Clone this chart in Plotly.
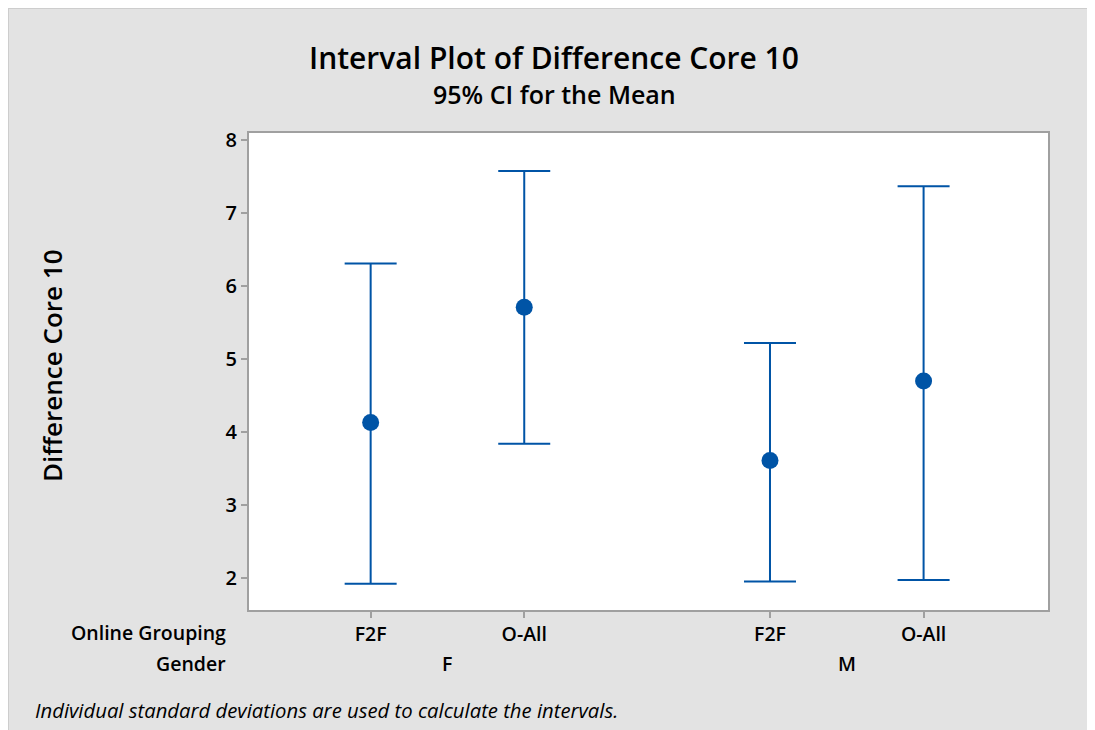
import plotly.graph_objects as go

# ---- data ----
genders = ["F", "M"]
groupings = ["F2F", "O-All"]
means = [4.13, 5.71, 3.61, 4.70]
lower = [1.92, 3.84, 1.95, 1.97]
upper = [6.31, 7.58, 5.22, 7.37]
y_ticks = [2, 3, 4, 5, 6, 7, 8]

BLUE = "#0054A6"
FONT = "Open Sans"
SEMI = 600

# layout positions for the nested categories
GAP = 2.6
xs = []
labels = []
for gi, g in enumerate(genders):
    for si, s in enumerate(groupings):
        xs.append(gi * GAP + si + 1)
        labels.append(s)

err_plus = [u - m for u, m in zip(upper, means)]
err_minus = [m - l for m, l in zip(means, lower)]

fig = go.Figure()
fig.add_trace(go.Scatter(
    x=xs, y=means, mode="markers",
    marker=dict(size=17, color=BLUE),
    error_y=dict(type="data", symmetric=False, array=err_plus, arrayminus=err_minus,
                 color=BLUE, thickness=2, width=26),
    showlegend=False, hoverinfo="y",
))

OFF = 8  # page offset of the figure
W, H = 1095, 730
L = 249 - OFF
T = 133 - OFF
R = W - (1048 - OFF)
B = H - (610 - OFF)
pw = W - L - R
ph = H - T - B

def px_x(p):
    return (p - OFF - L) / pw

def px_y(p):
    return (H - B - (p - OFF)) / ph

shapes = [dict(type="rect", xref="paper", yref="paper",
               x0=-L / pw, x1=(W - L) / pw, y0=-B / ph, y1=(H - B) / ph,
               fillcolor="rgba(0,0,0,0)", line=dict(color="#CDCDCD", width=2), layer="below")]

annotations = [
    dict(text="Online Grouping", xref="paper", yref="paper", x=px_x(228), y=px_y(632),
         xanchor="right", yanchor="middle", showarrow=False,
         font=dict(size=19.5, color="#000", family=FONT, weight=SEMI)),
    dict(text="Gender", xref="paper", yref="paper", x=px_x(228), y=px_y(663),
         xanchor="right", yanchor="middle", showarrow=False,
         font=dict(size=19.5, color="#000", family=FONT, weight=SEMI)),
    dict(text="Individual standard deviations are used to calculate the intervals.",
         xref="paper", yref="paper", x=px_x(33), y=px_y(710),
         xanchor="left", yanchor="middle", showarrow=False,
         font=dict(size=20.3, color="#000", family=FONT, style="italic")),
    dict(text="Interval Plot of Difference Core 10", xref="paper", yref="paper",
         x=px_x(554), y=px_y(57), xanchor="center", yanchor="middle", showarrow=False,
         font=dict(size=30, color="#000", family=FONT, weight=SEMI)),
    dict(text="95% CI for the Mean", xref="paper", yref="paper",
         x=px_x(554), y=px_y(94), xanchor="center", yanchor="middle", showarrow=False,
         font=dict(size=25, color="#000", family=FONT, weight=SEMI)),
    dict(text="Difference Core 10", xref="paper", yref="paper",
         x=px_x(52), y=px_y(366), xanchor="center", yanchor="middle", showarrow=False,
         textangle=-90, font=dict(size=26, color="#000", family=FONT, weight=SEMI)),
]
for gi, g in enumerate(genders):
    gx = [xs[i] for i in range(len(xs)) if i // len(groupings) == gi]
    annotations.append(dict(text=g, xref="x", yref="paper", x=sum(gx) / len(gx),
                            y=px_y(663), xanchor="center", yanchor="middle", showarrow=False,
                            font=dict(size=19.5, color="#000", family=FONT, weight=SEMI)))

fig.update_layout(
    width=W, height=H,
    margin=dict(l=L, r=R, t=T, b=B),
    paper_bgcolor="#E3E3E3",
    plot_bgcolor="white",
    font=dict(family=FONT, color="#000"),
    shapes=shapes,
    annotations=annotations,
    xaxis=dict(range=[0.208, 5.41], tickvals=xs, ticktext=labels,
               ticks="outside", ticklen=6, tickcolor="#A0A0A0", tickwidth=2,
               showline=True, linecolor="#A0A0A0", linewidth=2, mirror=True,
               showgrid=False, zeroline=False,
               tickfont=dict(size=19.5, family=FONT, color="#000", weight=SEMI)),
    yaxis=dict(range=[1.56, 8.1], tickvals=y_ticks,
               ticks="outside", ticklen=6, tickcolor="#A0A0A0", tickwidth=2,
               showline=True, linecolor="#A0A0A0", linewidth=2, mirror=True,
               showgrid=False, zeroline=False,
               tickfont=dict(size=20, family=FONT, color="#000", weight=SEMI)),
)

fig.write_html("out.html")
